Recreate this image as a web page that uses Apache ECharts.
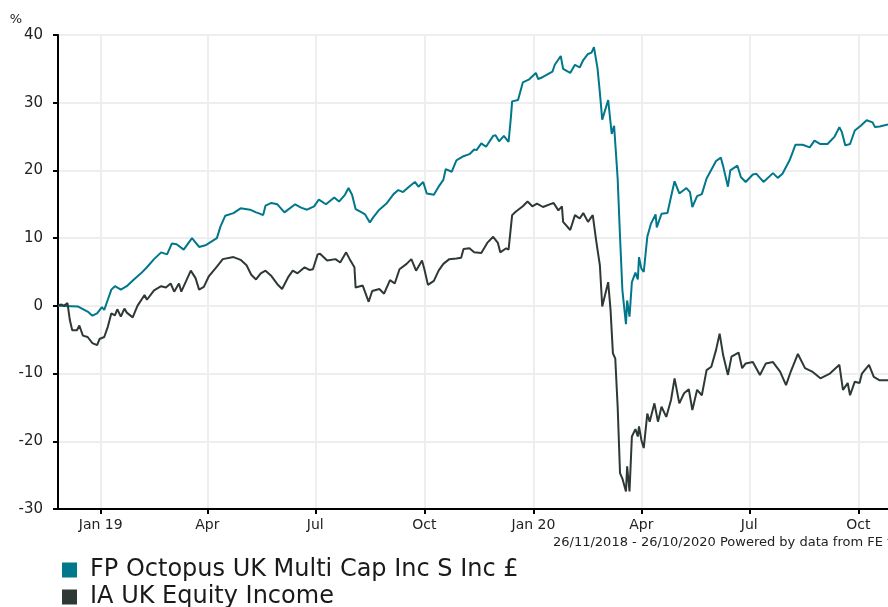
<!DOCTYPE html>
<html>
<head>
<meta charset="utf-8">
<script src="https://cdn.jsdelivr.net/npm/echarts@6/dist/echarts.min.js"></script>
<style>
html, body { margin: 0; padding: 0; background: #fff; overflow: hidden; }
#chart { width: 888px; height: 607px; }
</style>
</head>
<body>
<div id="chart"></div>
<script>
var myChart = echarts.init(document.getElementById('chart'));

const fundName = 'FP Octopus UK Multi Cap Inc S Inc £';
const sectorName = 'IA UK Equity Income';
const footerText = '26/11/2018 - 26/10/2020 Powered by data from FE fundinfo';
const startDate = '2018-11-26';
const endDate = '2020-10-26';

const tickDates = ['2019-01-01', '2019-04-01', '2019-07-01', '2019-10-01',
  '2020-01-01', '2020-04-01', '2020-07-01', '2020-10-01'];
const tickLabels = ['Jan 19', 'Apr', 'Jul', 'Oct', 'Jan 20', 'Apr', 'Jul', 'Oct'];

// cumulative % growth of the fund
const fundDates = [
  '2018-11-26', '2018-12-13', '2018-12-21', '2018-12-25', '2018-12-29', '2019-01-02', '2019-01-04', '2019-01-07',
  '2019-01-10', '2019-01-13', '2019-01-18', '2019-01-23', '2019-01-29', '2019-02-04', '2019-02-09', '2019-02-15',
  '2019-02-21', '2019-02-26', '2019-03-02', '2019-03-06', '2019-03-12', '2019-03-19', '2019-03-25', '2019-03-31',
  '2019-04-09', '2019-04-12', '2019-04-16', '2019-04-23', '2019-04-29', '2019-05-07', '2019-05-12', '2019-05-14',
  '2019-05-18', '2019-05-20', '2019-05-25', '2019-05-30', '2019-06-05', '2019-06-14', '2019-06-19', '2019-06-24',
  '2019-06-30', '2019-07-04', '2019-07-10', '2019-07-17', '2019-07-21', '2019-07-26', '2019-07-29', '2019-08-01',
  '2019-08-04', '2019-08-08', '2019-08-12', '2019-08-16', '2019-08-19', '2019-08-24', '2019-08-30', '2019-09-05',
  '2019-09-09', '2019-09-13', '2019-09-18', '2019-09-23', '2019-09-26', '2019-09-30', '2019-10-03', '2019-10-09',
  '2019-10-13', '2019-10-17', '2019-10-19', '2019-10-24', '2019-10-28', '2019-11-03', '2019-11-08', '2019-11-12',
  '2019-11-14', '2019-11-18', '2019-11-22', '2019-11-28', '2019-11-30', '2019-12-03', '2019-12-07', '2019-12-11',
  '2019-12-13', '2019-12-14', '2019-12-19', '2019-12-23', '2019-12-28', '2020-01-03', '2020-01-05', '2020-01-09',
  '2020-01-17', '2020-01-19', '2020-01-24', '2020-01-26', '2020-02-01', '2020-02-05', '2020-02-09', '2020-02-12',
  '2020-02-16', '2020-02-19', '2020-02-21', '2020-02-24', '2020-02-26', '2020-02-28', '2020-03-04', '2020-03-07',
  '2020-03-09', '2020-03-12', '2020-03-14', '2020-03-16', '2020-03-19', '2020-03-20', '2020-03-22', '2020-03-24',
  '2020-03-27', '2020-03-29', '2020-03-30', '2020-04-01', '2020-04-03', '2020-04-06', '2020-04-09', '2020-04-13',
  '2020-04-14', '2020-04-18', '2020-04-23', '2020-04-26', '2020-04-29', '2020-05-03', '2020-05-09', '2020-05-12',
  '2020-05-14', '2020-05-18', '2020-05-22', '2020-05-26', '2020-05-30', '2020-06-03', '2020-06-07', '2020-06-09',
  '2020-06-13', '2020-06-15', '2020-06-21', '2020-06-24', '2020-06-28', '2020-07-04', '2020-07-07', '2020-07-13',
  '2020-07-21', '2020-07-25', '2020-07-29', '2020-08-04', '2020-08-09', '2020-08-15', '2020-08-21', '2020-08-25',
  '2020-08-30', '2020-09-05', '2020-09-11', '2020-09-15', '2020-09-17', '2020-09-20', '2020-09-24', '2020-09-28',
  '2020-10-03', '2020-10-08', '2020-10-13', '2020-10-15', '2020-10-19', '2020-10-26'
];
const fundValues = [
  0, -0.1, -0.85, -1.45, -1.1, -0.2, -0.6, 0.9,
  2.4, 2.9, 2.4, 2.9, 3.9, 4.8, 5.7, 6.9,
  7.9, 7.6, 9.2, 9.1, 8.3, 10.0, 8.7, 9.0,
  10.0, 11.7, 13.3, 13.7, 14.4, 14.2, 13.8, 13.7,
  13.4, 14.8, 15.2, 15.0, 13.8, 15.0, 14.5, 14.2,
  14.7, 15.7, 15.0, 16.0, 15.4, 16.4, 17.4, 16.4,
  14.3, 13.9, 13.5, 12.3, 13.1, 14.2, 15.1, 16.5,
  17.1, 16.8, 17.6, 18.3, 17.6, 18.3, 16.6, 16.4,
  17.6, 18.6, 20.2, 19.8, 21.5, 22.1, 22.4, 23.1,
  23.0, 24.0, 23.5, 25.1, 25.2, 24.3, 25.1, 24.2,
  27.9, 30.2, 30.4, 33.0, 33.4, 34.4, 33.5, 33.8,
  34.6, 35.6, 36.9, 35.0, 34.4, 35.6, 35.2, 36.3,
  37.2, 37.4, 38.2, 35.1, 31.5, 27.5, 30.4, 25.4,
  26.6, 18.8, 10.2, 2.3, -2.7, 0.8, -1.6, 3.5,
  4.9, 3.9, 7.2, 5.5, 5.0, 10.2, 12.1, 13.5,
  11.6, 13.6, 13.7, 16.1, 18.4, 16.6, 17.4, 16.8,
  14.6, 16.2, 16.5, 18.8, 20.1, 21.4, 21.9, 20.6,
  17.6, 20.0, 20.7, 19.0, 18.3, 19.4, 19.5, 18.3,
  19.6, 18.9, 19.5, 21.5, 23.8, 23.8, 23.4, 24.4,
  23.9, 23.9, 25.0, 26.4, 25.7, 23.7, 23.9, 25.9,
  26.6, 27.4, 27.1, 26.4, 26.5, 26.8
];

// cumulative % growth of the sector average
const sectorDates = [
  '2018-11-26', '2018-11-29', '2018-12-01', '2018-12-04', '2018-12-06', '2018-12-08', '2018-12-12', '2018-12-14',
  '2018-12-17', '2018-12-21', '2018-12-25', '2018-12-29', '2018-12-31', '2019-01-04', '2019-01-07', '2019-01-10',
  '2019-01-13', '2019-01-15', '2019-01-18', '2019-01-21', '2019-01-23', '2019-01-28', '2019-02-01', '2019-02-07',
  '2019-02-09', '2019-02-15', '2019-02-21', '2019-02-25', '2019-03-01', '2019-03-04', '2019-03-08', '2019-03-10',
  '2019-03-18', '2019-03-22', '2019-03-25', '2019-03-29', '2019-04-02', '2019-04-09', '2019-04-14', '2019-04-23',
  '2019-04-29', '2019-05-04', '2019-05-08', '2019-05-12', '2019-05-16', '2019-05-20', '2019-05-25', '2019-05-30',
  '2019-06-03', '2019-06-08', '2019-06-12', '2019-06-16', '2019-06-22', '2019-06-26', '2019-06-29', '2019-07-03',
  '2019-07-05', '2019-07-11', '2019-07-18', '2019-07-22', '2019-07-27', '2019-07-30', '2019-08-03', '2019-08-04',
  '2019-08-10', '2019-08-15', '2019-08-18', '2019-08-24', '2019-08-28', '2019-09-02', '2019-09-06', '2019-09-10',
  '2019-09-16', '2019-09-20', '2019-09-24', '2019-09-29', '2019-10-01', '2019-10-04', '2019-10-09', '2019-10-13',
  '2019-10-17', '2019-10-22', '2019-10-28', '2019-11-01', '2019-11-03', '2019-11-08', '2019-11-12', '2019-11-18',
  '2019-11-23', '2019-11-28', '2019-12-02', '2019-12-04', '2019-12-09', '2019-12-11', '2019-12-14', '2019-12-17',
  '2019-12-23', '2019-12-27', '2019-12-31', '2020-01-04', '2020-01-09', '2020-01-18', '2020-01-22', '2020-01-25',
  '2020-01-26', '2020-02-01', '2020-02-05', '2020-02-09', '2020-02-12', '2020-02-16', '2020-02-20', '2020-02-23',
  '2020-02-26', '2020-02-28', '2020-03-04', '2020-03-06', '2020-03-08', '2020-03-10', '2020-03-12', '2020-03-14',
  '2020-03-16', '2020-03-19', '2020-03-20', '2020-03-22', '2020-03-24', '2020-03-27', '2020-03-29', '2020-03-30',
  '2020-04-01', '2020-04-03', '2020-04-06', '2020-04-08', '2020-04-12', '2020-04-15', '2020-04-18', '2020-04-22',
  '2020-04-26', '2020-04-29', '2020-05-03', '2020-05-07', '2020-05-11', '2020-05-14', '2020-05-18', '2020-05-22',
  '2020-05-26', '2020-05-30', '2020-06-03', '2020-06-06', '2020-06-09', '2020-06-13', '2020-06-16', '2020-06-22',
  '2020-06-25', '2020-06-28', '2020-07-04', '2020-07-10', '2020-07-15', '2020-07-21', '2020-07-27', '2020-08-01',
  '2020-08-05', '2020-08-11', '2020-08-17', '2020-08-23', '2020-08-30', '2020-09-07', '2020-09-15', '2020-09-18',
  '2020-09-22', '2020-09-24', '2020-09-28', '2020-10-02', '2020-10-04', '2020-10-10', '2020-10-14', '2020-10-19',
  '2020-10-26'
];
const sectorValues = [
  0.1, 0.2, 0, 0.4, -2.1, -3.6, -3.6, -2.9,
  -4.4, -4.6, -5.5, -5.8, -4.9, -4.6, -3.1, -1.1,
  -1.4, -0.5, -1.6, -0.4, -1.0, -1.7, 0, 1.6,
  0.9, 2.3, 2.9, 2.7, 3.3, 2.1, 3.3, 2.1,
  5.2, 4.1, 2.4, 2.8, 4.3, 5.8, 6.9, 7.2,
  6.8, 6.0, 4.6, 3.9, 4.8, 5.2, 4.4, 3.2,
  2.5, 4.2, 5.2, 4.8, 5.7, 5.3, 5.4, 7.6,
  7.7, 6.7, 6.9, 6.4, 7.9, 6.9, 5.7, 2.7,
  3.0, 0.6, 2.2, 2.5, 1.8, 3.8, 3.3, 5.4,
  6.2, 6.9, 5.2, 6.7, 5.4, 3.1, 3.7, 5.2,
  6.2, 6.9, 7.0, 7.1, 8.4, 8.5, 7.9, 7.8,
  9.3, 10.2, 9.3, 7.9, 8.5, 8.3, 13.4, 13.9,
  14.7, 15.4, 14.7, 15.1, 14.6, 15.2, 14.1, 14.7,
  12.4, 11.2, 13.4, 12.9, 13.7, 12.4, 13.4, 9.5,
  6.0, -0.1, 3.5, -0.6, -7.0, -7.8, -14.9, -24.7,
  -25.5, -27.4, -23.7, -27.4, -19.3, -18.2, -19.3, -17.8,
  -19.8, -21.0, -15.9, -17.1, -14.4, -17.1, -14.9, -16.4,
  -13.9, -10.7, -14.4, -12.9, -12.3, -15.4, -12.4, -13.2,
  -9.5, -9.0, -6.5, -4.1, -7.3, -10.2, -7.5, -6.9,
  -9.2, -8.5, -8.3, -10.2, -8.5, -8.3, -9.7, -11.7,
  -9.7, -7.1, -9.2, -9.7, -10.7, -10.0, -8.7, -12.4,
  -11.4, -13.2, -11.2, -11.4, -10.0, -8.7, -10.5, -11.0,
  -11.0
];

const fundColor = '#00778a';
const sectorColor = '#2e3935';

function toTime(s) {
  var p = s.split('-');
  return new Date(+p[0], +p[1] - 1, +p[2]).getTime();
}

const tickTimes = tickDates.map(toTime);

function pairs(dates, values) {
  return dates.map(function (d, i) {
    return [toTime(d), values[i]];
  });
}

var option = {
  animation: false,
  textStyle: { fontFamily: 'DejaVu Sans' },
  grid: { left: 58, right: -8, top: 35, bottom: 98 },
  legend: {
    orient: 'vertical',
    left: 62,
    top: 558,
    height: 80,
    padding: 0,
    itemWidth: 15,
    itemHeight: 15,
    itemGap: 3,
    icon: 'rect',
    data: [fundName, sectorName],
    textStyle: { fontSize: 24, lineHeight: 24, color: '#1a1a1a', padding: [0, 0, 0, 8] }
  },
  graphic: [{
    type: 'text',
    left: 553,
    top: 536,
    style: { text: footerText, fontSize: 13, fill: '#222', fontFamily: 'DejaVu Sans' }
  }],
  xAxis: {
    // dates as timestamps on a value scale, ticks placed at quarter starts
    type: 'value',
    min: toTime(startDate),
    max: toTime(endDate),
    axisLine: { onZero: false, lineStyle: { color: '#000', width: 2 } },
    axisTick: { customValues: tickTimes, length: 5, lineStyle: { color: '#000', width: 2 } },
    axisLabel: {
      customValues: tickTimes,
      fontSize: 14,
      color: '#222',
      margin: 9,
      formatter: function (val) {
        var i = tickTimes.indexOf(val);
        return i >= 0 ? tickLabels[i] : '';
      }
    },
    splitLine: { show: true, customValues: tickTimes, lineStyle: { color: '#eeeeee', width: 2 } }
  },
  yAxis: {
    type: 'value',
    min: -30,
    max: 40,
    interval: 10,
    name: '%',
    nameLocation: 'end',
    nameGap: 9,
    nameTextStyle: { align: 'right', padding: [0, 36, 0, 0], fontSize: 13, color: '#222' },
    axisLine: { show: true, lineStyle: { color: '#000', width: 2 } },
    axisTick: { show: true, length: 5, lineStyle: { color: '#000', width: 2 } },
    axisLabel: { fontSize: 15, color: '#222', margin: 15 },
    splitLine: { lineStyle: { color: '#eeeeee', width: 2 } }
  },
  series: [
    {
      name: fundName,
      type: 'line',
      data: pairs(fundDates, fundValues),
      symbol: 'none',
      lineStyle: { color: fundColor, width: 2 },
      itemStyle: { color: fundColor }
    },
    {
      name: sectorName,
      type: 'line',
      data: pairs(sectorDates, sectorValues),
      symbol: 'none',
      lineStyle: { color: sectorColor, width: 2 },
      itemStyle: { color: sectorColor }
    }
  ]
};

myChart.setOption(option);
</script>
</body>
</html>
